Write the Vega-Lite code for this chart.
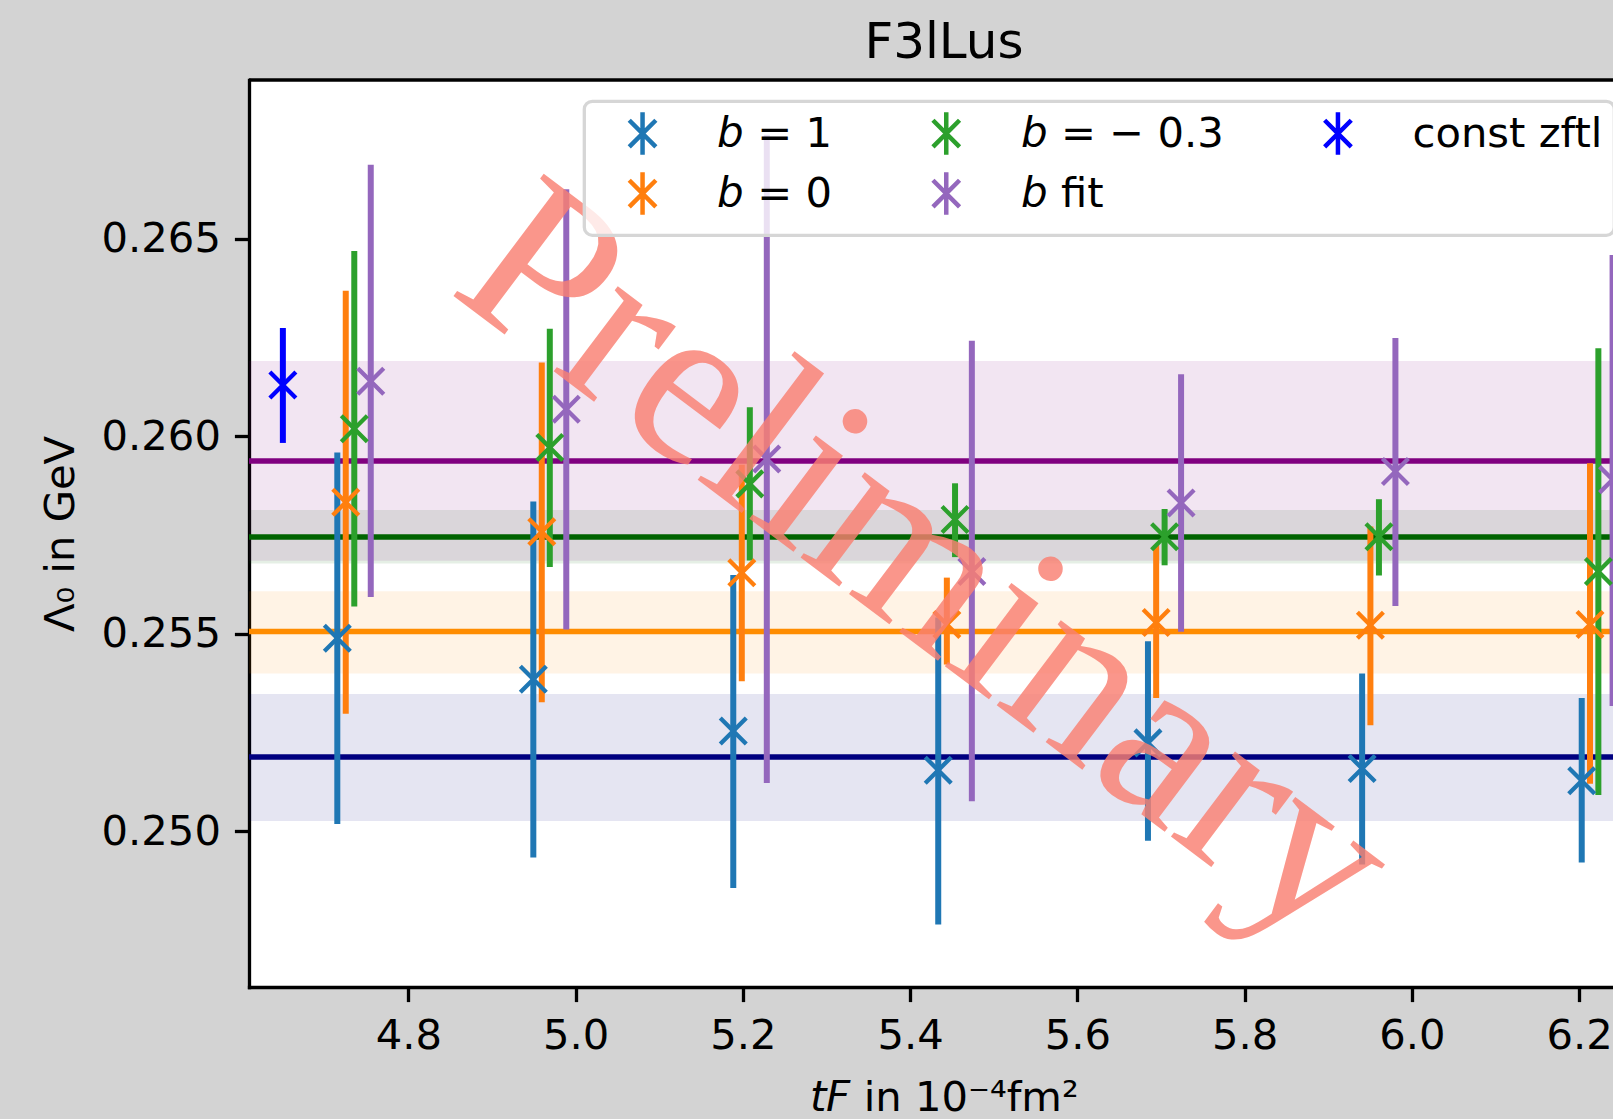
{
  "$schema": "https://vega.github.io/schema/vega-lite/v6.json",
  "width": 1364,
  "height": 907,
  "autosize": {"type": "none"},
  "padding": {"left": 249, "top": 80, "right": 0, "bottom": 132},
  "background": "#d3d3d3",
  "title": {"text": "F3lLus", "font": "DejaVu Sans", "fontSize": 50, "fontWeight": "normal", "color": "black", "anchor": "middle", "frame": "group", "offset": 10, "dx": 13},
  "config": {
    "view": {"stroke": null, "fill": "white"},
    "axis": {"domainColor": "black", "domainWidth": 3.3, "domainCap": "square", "tickColor": "black", "tickWidth": 3.3, "tickSize": 14.6, "labelFont": "DejaVu Sans", "labelFontSize": 41.7, "labelColor": "black", "labelPadding": 14, "grid": false, "titleFont": "DejaVu Sans", "titleFontSize": 41.7, "titleFontWeight": "normal", "titleColor": "black"},
    "legend": {"padding": 11, "fillColor": "rgba(255,255,255,0.8)", "strokeColor": "#d6d6d6", "strokeWidth": 3.3, "cornerRadius": 8, "labelFont": "DejaVu Sans", "labelFontSize": 41.7, "labelColor": "black", "labelOffset": 53.7, "symbolOffset": 26.4, "labelLimit": 500, "columnPadding": 58.7, "rowPadding": -1.6, "symbolType": "M-3.45,0M-1,-1L1,1M-1,1L1,-1M0,-1.6L0,1.6", "symbolSize": 708, "symbolStrokeWidth": 4.5}
  },
  "datasets": {
    "fits": [
      {"fit": "navy", "value": 0.251876, "lo": 0.250256, "hi": 0.253476},
      {"fit": "darkorange", "value": 0.255053, "lo": 0.253990, "hi": 0.256076},
      {"fit": "darkgreen", "value": 0.257448, "lo": 0.256775, "hi": 0.258132},
      {"fit": "purple", "value": 0.259375, "lo": 0.256850, "hi": 0.261901}
    ],
    "pts": [
      {"series": "𝘣 = 1", "x": 4.7150, "y": 0.254884, "lo": 0.250180, "hi": 0.259587},
      {"series": "𝘣 = 1", "x": 4.9494, "y": 0.253846, "lo": 0.249334, "hi": 0.258347},
      {"series": "𝘣 = 1", "x": 5.1885, "y": 0.252537, "lo": 0.248560, "hi": 0.256484},
      {"series": "𝘣 = 1", "x": 5.4336, "y": 0.251544, "lo": 0.247638, "hi": 0.255408},
      {"series": "𝘣 = 1", "x": 5.6844, "y": 0.252236, "lo": 0.249757, "hi": 0.254810},
      {"series": "𝘣 = 1", "x": 5.9405, "y": 0.251585, "lo": 0.249157, "hi": 0.253992},
      {"series": "𝘣 = 1", "x": 6.2031, "y": 0.251276, "lo": 0.249210, "hi": 0.253372},
      {"series": "𝘣 = 0", "x": 4.7251, "y": 0.258327, "lo": 0.252972, "hi": 0.263680},
      {"series": "𝘣 = 0", "x": 4.9595, "y": 0.257580, "lo": 0.253263, "hi": 0.261866},
      {"series": "𝘣 = 0", "x": 5.1987, "y": 0.256542, "lo": 0.253798, "hi": 0.259276},
      {"series": "𝘣 = 0", "x": 5.4439, "y": 0.255233, "lo": 0.254220, "hi": 0.256420},
      {"series": "𝘣 = 0", "x": 5.6942, "y": 0.255286, "lo": 0.253372, "hi": 0.257248},
      {"series": "𝘣 = 0", "x": 5.9504, "y": 0.255213, "lo": 0.252681, "hi": 0.257714},
      {"series": "𝘣 = 0", "x": 6.2130, "y": 0.255233, "lo": 0.251203, "hi": 0.259314},
      {"series": "𝘣 = − 0.3", "x": 4.7353, "y": 0.260190, "lo": 0.255689, "hi": 0.264688},
      {"series": "𝘣 = − 0.3", "x": 4.9691, "y": 0.259714, "lo": 0.256689, "hi": 0.262722},
      {"series": "𝘣 = − 0.3", "x": 5.2083, "y": 0.258793, "lo": 0.256853, "hi": 0.260732},
      {"series": "𝘣 = − 0.3", "x": 5.4537, "y": 0.257889, "lo": 0.256939, "hi": 0.258808},
      {"series": "𝘣 = − 0.3", "x": 5.7043, "y": 0.257456, "lo": 0.256732, "hi": 0.258157},
      {"series": "𝘣 = − 0.3", "x": 5.9606, "y": 0.257456, "lo": 0.256474, "hi": 0.258405},
      {"series": "𝘣 = − 0.3", "x": 6.2230, "y": 0.256577, "lo": 0.250914, "hi": 0.262228},
      {"series": "𝘣 fit", "x": 4.7550, "y": 0.261392, "lo": 0.255932, "hi": 0.266875},
      {"series": "𝘣 fit", "x": 4.9888, "y": 0.260684, "lo": 0.255106, "hi": 0.266250},
      {"series": "𝘣 fit", "x": 5.2286, "y": 0.259425, "lo": 0.251218, "hi": 0.267632},
      {"series": "𝘣 fit", "x": 5.4738, "y": 0.256577, "lo": 0.250759, "hi": 0.262415},
      {"series": "𝘣 fit", "x": 5.7240, "y": 0.258311, "lo": 0.255048, "hi": 0.261567},
      {"series": "𝘣 fit", "x": 5.9803, "y": 0.259109, "lo": 0.255699, "hi": 0.262486},
      {"series": "𝘣 fit", "x": 6.2400, "y": 0.258901, "lo": 0.253167, "hi": 0.264585},
      {"series": "const zftl", "x": 4.6499, "y": 0.261294, "lo": 0.259830, "hi": 0.262739}
    ]
  },
  "layer": [
    {
      "data": {"name": "fits"},
      "mark": {"type": "rect", "opacity": 0.1},
      "encoding": {
        "y": {"field": "lo", "type": "quantitative", "scale": {"domain": [0.246056, 0.269018], "nice": false, "zero": false}, "title": "Λ₀ in GeV"},
        "y2": {"field": "hi"},
        "fill": {"field": "fit", "type": "nominal", "scale": {"domain": ["navy", "darkorange", "darkgreen", "purple"], "range": ["#000080", "#ff8c00", "#006400", "#800080"]}, "legend": null}
      }
    },
    {
      "data": {"name": "fits"},
      "mark": {"type": "rule", "strokeWidth": 5.5},
      "encoding": {
        "y": {"field": "value", "type": "quantitative", "title": "Λ₀ in GeV"},
        "stroke": {"field": "fit", "type": "nominal", "scale": {"domain": ["navy", "darkorange", "darkgreen", "purple"], "range": ["#000080", "#ff8c00", "#006400", "#800080"]}, "legend": null}
      }
    },
    {
      "data": {"name": "pts"},
      "encoding": {
        "x": {"field": "x", "type": "quantitative", "scale": {"domain": [4.6094, 6.2405], "nice": false, "zero": false}, "axis": {"values": [4.8, 5.0, 5.2, 5.4, 5.6, 5.8, 6.0, 6.2], "format": ".1f", "titleX": 695, "titleY": 123, "titleBaseline": "alphabetic"}, "title": "𝘵𝘍 in 10⁻⁴fm²"},
        "color": {"field": "series", "type": "nominal", "scale": {"domain": ["𝘣 = 1", "𝘣 = 0", "𝘣 = − 0.3", "𝘣 fit", "const zftl"], "range": ["#1f77b4", "#ff7f0e", "#2ca02c", "#9467bd", "#0000ff"]}, "legend": {"title": null, "orient": "none", "legendX": 335.3, "legendY": 21.3, "columns": 3, "labelExpr": "datum.label == 'const zftl' ? datum.label + '\u00a0\u00a0\u00a0' : datum.label"}}
      },
      "layer": [
        {
          "mark": {"type": "rule", "strokeWidth": 6},
          "encoding": {
            "y": {"field": "lo", "type": "quantitative", "axis": {"values": [0.250, 0.255, 0.260, 0.265], "format": ".3f", "titleX": -175.7, "titleBaseline": "alphabetic"}, "title": "Λ₀ in GeV"},
            "y2": {"field": "hi"}
          }
        },
        {
          "mark": {"type": "point", "shape": "M-1,-1L1,1M-1,1L1,-1", "filled": false, "size": 676, "strokeWidth": 4.3, "opacity": 1},
          "encoding": {
            "y": {"field": "y", "type": "quantitative", "title": "Λ₀ in GeV"}
          }
        }
      ]
    },
    {
      "data": {"values": [{}]},
      "mark": {"type": "rule", "strokeWidth": 3.3, "color": "black"},
      "encoding": {"y": {"datum": 0.269018}}
    },
    {
      "data": {"values": [{}]},
      "mark": {"type": "text", "text": "Preliminary", "font": "Liberation Serif", "fontSize": 232, "angle": 37, "color": "#fa8072", "opacity": 0.82, "align": "center", "baseline": "alphabetic"},
      "encoding": {"x": {"datum": 5.3691}, "y": {"datum": 0.255335}}
    }
  ],
  "resolve": {"scale": {"stroke": "independent", "fill": "independent", "color": "independent"}}
}
